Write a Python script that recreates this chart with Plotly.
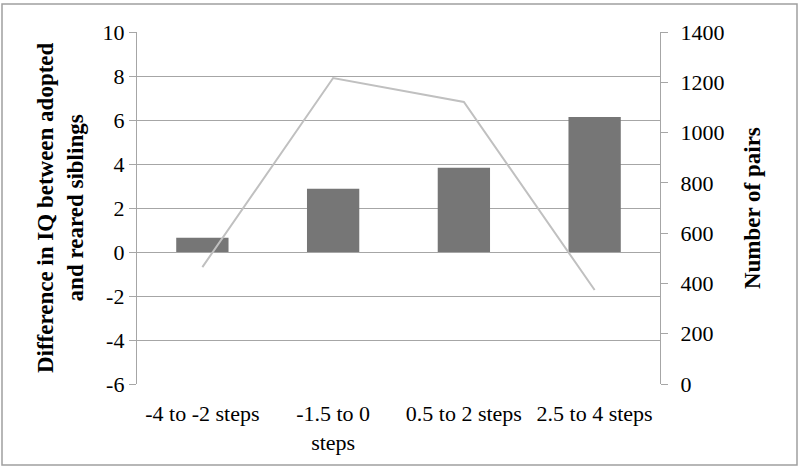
import plotly.graph_objects as go

categories = ["-4 to -2 steps", "-1.5 to 0<br>steps", "0.5 to 2 steps", "2.5 to 4 steps"]
iq_difference = [0.65, 2.87, 3.83, 6.14]
pair_counts = [465, 1217, 1122, 374]
left_ticks = [-6, -4, -2, 0, 2, 4, 6, 8, 10]
left_tick_text = ["-6", "-4", "-2", "0", "2", "4", "6", "8", "10"]
right_ticks = [0, 200, 400, 600, 800, 1000, 1200, 1400]

font_name = "Liberation Serif"
grid_col = "#a6a6a6"

fig = go.Figure()
fig.add_trace(go.Bar(x=categories, y=iq_difference, marker=dict(color="#767676", line=dict(width=0)),
                     width=0.4, yaxis="y"))
fig.add_trace(go.Scatter(x=categories, y=pair_counts, mode="lines",
                         line=dict(color="#c0c0c0", width=2), yaxis="y2"))

fig.update_layout(
    width=799, height=468,
    margin=dict(l=137, r=139, t=32, b=84),
    paper_bgcolor="white", plot_bgcolor="white",
    showlegend=False,
    font=dict(family=font_name, size=22, color="black"),
    xaxis=dict(showgrid=False, showline=False, ticks="", tickfont=dict(size=22),
               ticklabelstandoff=14),
    yaxis=dict(range=[-6, 10], tickvals=left_ticks, ticktext=left_tick_text,
               showgrid=True, gridcolor=grid_col, gridwidth=1.3,
               zeroline=False, showline=True, linecolor=grid_col, linewidth=1.3,
               ticks="outside", ticklen=7, tickcolor=grid_col, tickwidth=1.3,
               ticklabelstandoff=0),
    yaxis2=dict(range=[0, 1400], tickvals=right_ticks, overlaying="y", side="right", showgrid=False,
                zeroline=False, showline=True, linecolor=grid_col, linewidth=1.3,
                ticks="outside", ticklen=7, tickcolor=grid_col, tickwidth=1.3,
                ticklabelstandoff=8),
    bargap=0.6,
)

fig.add_annotation(text="<b>Difference in IQ between adopted<br>and reared siblings</b>",
                   xref="paper", yref="paper", x=-0.147, y=0.5, textangle=-90,
                   showarrow=False, font=dict(size=23), xanchor="center", yanchor="middle")
fig.add_annotation(text="<b>Number of pairs</b>",
                   xref="paper", yref="paper", x=1.176, y=0.5, textangle=-90,
                   showarrow=False, font=dict(size=23), xanchor="center", yanchor="middle")

# outer chart border
fig.add_shape(type="rect", xref="paper", yref="paper",
              x0=(2 - 137) / 523, x1=(797 - 137) / 523,
              y0=(384 - 465) / 352, y1=(384 - 4) / 352,
              line=dict(color="#a0a0a0", width=1.5), layer="below")

fig.write_html("out.html", config={"displayModeBar": False},
               post_script="document.body.style.margin='0px';")
